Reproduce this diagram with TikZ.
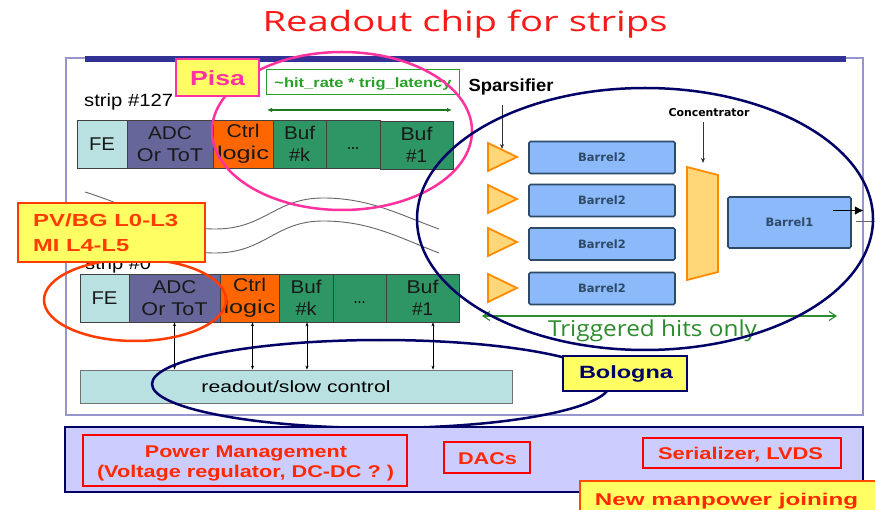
\documentclass[tikz,border=0pt]{standalone}
\usepackage{fontspec}
\setmainfont{Liberation Sans}
\newfontfamily\djv{DejaVu Sans}
\newfontfamily\comic{Open Sans}
\usetikzlibrary{arrows.meta}
\newcommand\fs[2]{\fontsize{#1}{#2}\selectfont}
\newcommand\fw[2]{\resizebox{#1}{\height}{#2}}

\definecolor{titlered}{RGB}{250,25,25}
\definecolor{framecol}{RGB}{150,150,205}
\definecolor{barblue}{RGB}{50,50,150}
\definecolor{pinkc}{RGB}{255,50,160}
\definecolor{lyellow}{RGB}{255,255,100}
\definecolor{hgreen}{RGB}{40,160,40}
\definecolor{dgreen}{RGB}{30,120,30}
\definecolor{tgreen}{RGB}{45,140,45}
\definecolor{fecol}{RGB}{185,225,225}
\definecolor{adccol}{RGB}{102,102,155}
\definecolor{ctrlcol}{RGB}{255,102,0}
\definecolor{bufcol}{RGB}{46,150,100}
\definecolor{pvred}{RGB}{255,60,0}
\definecolor{navy}{RGB}{0,0,102}
\definecolor{bfill}{RGB}{140,185,250}
\definecolor{bline}{RGB}{45,75,105}
\definecolor{tfill}{RGB}{255,215,120}
\definecolor{tline}{RGB}{255,140,0}
\definecolor{lav}{RGB}{204,204,255}
\definecolor{boxred}{RGB}{255,0,0}
\definecolor{redtxt}{RGB}{255,40,0}

\begin{document}
\begin{tikzpicture}[x=1pt,y=-1pt,
  cell/.style={draw=black!75, line width=0.8pt, minimum height=48pt, inner sep=0pt,
               align=center, font=\fs{18.5}{22}, text=black!90},
  txt/.style={inner sep=0pt},
  barrel/.style={draw=bline, fill=bfill, line width=1.6pt, rounded corners=1.5pt,
                 minimum width=146pt, minimum height=32pt, inner sep=0pt,
                 font=\djv\bfseries\fs{11.5}{13}, text=bline},
  amp/.style={draw=tline, fill=tfill, line width=1.8pt, line join=miter},
  callout/.style={fill=lyellow, line width=2.5pt, inner sep=0pt},
  redbox/.style={draw=boxred, line width=1.5pt, inner sep=0pt},
  bus/.style={black, line width=0.6pt, {Stealth[length=4pt,width=3pt]}-{Stealth[length=4pt,width=3pt]}},
  wave/.style={black!60, line width=0.9pt},
  ring/.style={line width=2.5pt}]
\useasboundingbox (0,0) rectangle (875,510);
\fill[white] (0,0) rectangle (875,510);

% heading
\node[txt, anchor=base, text=titlered, font=\comic\fs{28}{30}] (title) at (465,32)
  {\fw{405pt}{Readout chip for strips}};

% chip frame and top bar
\draw[framecol, line width=1.3pt] (66,58) rectangle (863,415);
\fill[barblue] (85,56.5) rectangle (846,62);

% strip #127
\node[txt, anchor=base west, font=\fs{17.7}{20}] (lab127) at (84,106.5) {\fw{89pt}{strip \#127}};
\node[cell, fill=fecol,  minimum width=50pt] (a1) at (102,144)   {\fw{26pt}{FE}};
\node[cell, fill=adccol, minimum width=86pt] (a2) at (170,144)   {\fw{44pt}{ADC}\\\fw{66pt}{Or ToT}};
\node[cell, fill=ctrlcol,minimum width=60pt] (a3) at (243,144)   {\fw{33pt}{Ctrl}\\\fw{52pt}{logic}};
\node[cell, fill=bufcol, minimum width=53pt] (a4) at (299.5,144) {\fw{31pt}{Buf}\\\fw{21pt}{\#k}};
\node[cell, fill=bufcol, minimum width=54pt] (a5) at (353,144)   {};
\node[cell, fill=bufcol, minimum width=73pt] (a6) at (416.5,145) {\fw{32pt}{Buf}\\\fw{21pt}{\#1}};
\node[txt, font=\fs{18.5}{22}] (a5t) at ([yshift=-5pt]a5.center) {\fw{12pt}{...}};

% strip #0
\node[txt, anchor=base west, font=\fs{17.7}{20}] (lab0) at (85,270) {\fw{66pt}{strip \#0}};
\node[cell, fill=fecol,  minimum width=49pt] (b1) at (104.5,298) {\fw{26pt}{FE}};
\node[cell, fill=adccol, minimum width=91pt] (b2) at (174.5,298) {\fw{44pt}{ADC}\\\fw{66pt}{Or ToT}};
\node[cell, fill=ctrlcol,minimum width=59pt] (b3) at (249.5,298) {\fw{33pt}{Ctrl}\\\fw{52pt}{logic}};
\node[cell, fill=bufcol, minimum width=54pt] (b4) at (306,298)   {\fw{31pt}{Buf}\\\fw{21pt}{\#k}};
\node[cell, fill=bufcol, minimum width=53pt] (b5) at (359.5,298) {};
\node[cell, fill=bufcol, minimum width=73pt] (b6) at (422.5,298) {\fw{32pt}{Buf}\\\fw{21pt}{\#1}};
\node[txt, font=\fs{18.5}{22}] (b5t) at ([yshift=-5pt]b5.center) {\fw{12pt}{...}};

% strips in between
\draw[wave] (85,192) .. controls (130,206) and (170,229) .. (215,229)
  .. controls (265,229) and (275,198) .. (323,198) .. controls (370,198) and (400,215) .. (439,229);
\draw[wave] (85,216) .. controls (130,230) and (170,253) .. (215,253)
  .. controls (265,253) and (275,221) .. (323,221) .. controls (370,221) and (400,238) .. (439,253);

% readout / slow control
\node[draw=black!55, fill=fecol, line width=0.8pt, minimum width=432pt, minimum height=33pt,
      inner sep=0pt] (ro) at (296,386.5) {};
\node[txt, anchor=base, font=\fs{16.3}{18}] (rot) at (296,392) {\fw{189pt}{readout/slow control}};
\draw[bus] (b2.south) -- (b2.south |- ro.north);
\draw[bus] ([xshift=3pt]b3.south) -- ([xshift=3pt]b3.south |- ro.north);
\draw[bus] ([xshift=1pt]b4.south) -- ([xshift=1pt]b4.south |- ro.north);
\draw[bus] ([xshift=10.5pt]b6.south) -- ([xshift=10.5pt]b6.south |- ro.north);

% hit-rate annotation
\node[draw=hgreen, line width=0.8pt, minimum width=193pt, minimum height=25pt, inner sep=0pt]
  (hr) at (362.5,81.5) {};
\node[txt, anchor=base, text=hgreen, font=\bfseries\fs{13.5}{15}] (hrt) at (363,88)
  {\fw{177pt}{\textasciitilde hit\_rate * trig\_latency}};
\coordinate (gl) at (267,110);
\coordinate (gr) at (452,110);
\draw[dgreen, line width=1.2pt, {Latex[length=5pt,width=4.5pt]}-{Latex[length=5pt,width=4.5pt]}] (gl) -- (gr);

% sparsifier stage
\node[txt, anchor=base, font=\bfseries\fs{17.5}{20}] (spt) at (511,91.5) {\fw{85pt}{Sparsifier}};
\foreach \c/\n in {157/1,199/2,242/3,288/4}{
  \draw[amp] (488,\c-14) -- (517,\c) -- (488,\c+14) -- cycle;
  \coordinate (tri\n) at (502,\c-8);
}
\draw[black!80, line width=1pt, -{Stealth[length=5pt,width=4pt]}] (502,105) -- (tri1);

\node[barrel] (r1) at (602,157.5) {Barrel2};
\node[barrel] (r2) at (602,200.5) {Barrel2};
\node[barrel] (r3) at (602,244)   {Barrel2};
\node[barrel] (r4) at (602,288.5) {Barrel2};

% concentrator
\node[txt, anchor=base, font=\djv\bfseries\fs{10.9}{12}] (cct) at (709,116.5) {Concentrator};
\draw[amp] (687,167) -- (718,175) -- (718,272) -- (687,280) -- cycle;
\coordinate (ctop) at (703,163);
\draw[black!80, line width=1pt, -{Stealth[length=5pt,width=4pt]}] (703,122) -- (ctop);

\node[barrel, minimum width=123pt, minimum height=51pt] (bar1) at (789.5,222.5) {Barrel1};
\draw[black, line width=1.8pt, -{Latex[length=9pt,width=9pt]}] ([xshift=-19pt,yshift=12pt]bar1.east) -- ([xshift=12pt,yshift=12pt]bar1.east);
\draw[black!60, line width=0.8pt] ([xshift=4pt,yshift=1.5pt]bar1.east) -- ++(22,0);

% triggered hits
\coordinate (tl) at (482,316);
\coordinate (tr) at (837,316);
\draw[tgreen, line width=1.1pt, {Straight Barb[length=7pt,width=9pt]}-{Straight Barb[length=7pt,width=9pt]}] (tl) -- (tr);
\node[txt, anchor=base, text=tgreen, font=\comic\fs{22}{24}] (trig) at (652.5,337)
  {\fw{209pt}{Triggered hits only}};

% group outlines
\draw[pinkc, ring] (342,131) ellipse [x radius=130pt, y radius=79pt];
\draw[navy, ring] (645,219) ellipse [x radius=228pt, y radius=131pt];
\draw[pvred, ring] (135,300) ellipse [x radius=91pt, y radius=41pt];
\draw[navy, ring] (381,384) ellipse [x radius=229pt, y radius=44pt];

% group tags
\node[callout, draw=pinkc, minimum width=83pt, minimum height=37pt] (pisa) at (217.5,77.5) {};
\node[txt, anchor=base, text=pinkc, font=\bfseries\fs{20.5}{22}] (pisat) at (217.5,85.7) {\fw{55pt}{Pisa}};

\node[callout, draw=pvred, minimum width=187pt, minimum height=59pt] (pv) at (111.5,232.5) {};
\node[txt, anchor=base west, text=pvred, font=\bfseries\fs{17.5}{20}] (pv1) at (33,227) {\fw{145pt}{PV/BG L0-L3}};
\node[txt, anchor=base west, text=pvred, font=\bfseries\fs{17.5}{20}] (pv2) at (33,252) {\fw{96pt}{MI L4-L5}};

\node[callout, draw=navy, minimum width=124pt, minimum height=35pt] (bo) at (625,373.5) {};
\node[txt, anchor=base, text=navy, font=\bfseries\fs{17.7}{20}] (bot) at (626,379) {\fw{94pt}{Bologna}};

% periphery
\node[draw=navy, fill=lav, line width=2.5pt, minimum width=798pt, minimum height=65pt, inner sep=0pt]
  (per) at (464,459.5) {};
\node[redbox, minimum width=324pt, minimum height=51pt] (pm) at (245,460.5) {};
\node[txt, anchor=base, text=redtxt, font=\bfseries\fs{17}{19}] (pm1) at (246,457) {\fw{202pt}{Power Management}};
\node[txt, anchor=base, text=redtxt, font=\bfseries\fs{17}{19}] (pm2) at (245.5,477) {\fw{297pt}{(Voltage regulator, DC-DC ? )}};
\node[redbox, minimum width=86pt, minimum height=31pt] (dac) at (487,457.5) {};
\node[txt, anchor=base, text=redtxt, font=\bfseries\fs{17}{19}] (dact) at (487.5,464) {\fw{59pt}{DACs}};
\node[redbox, minimum width=198pt, minimum height=30pt] (ser) at (742,453) {};
\node[txt, anchor=base, text=redtxt, font=\bfseries\fs{17}{19}] (sert) at (740.5,459) {\fw{165pt}{Serializer, LVDS}};

\node[fill=lyellow, draw=pvred!80!orange, line width=2pt, minimum width=305pt, minimum height=40pt, inner sep=0pt]
  (nm) at (732.5,501) {};
\node[txt, anchor=base, text=redtxt, font=\bfseries\fs{17}{19}] (nmt) at (726.5,505) {\fw{263pt}{New manpower joining}};
\end{tikzpicture}
\end{document}
